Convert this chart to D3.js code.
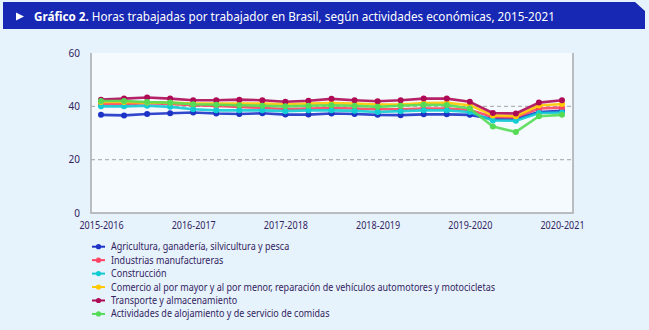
<!DOCTYPE html>
<html>
<head>
<meta charset="utf-8">
<script src="https://cdn.jsdelivr.net/npm/d3@7"></script>
<style>
  body { margin: 0; background: #e6f3fc; }
  svg { display: block; font-family: "Noto Sans", sans-serif; }
</style>
</head>
<body>
<div id="chart"></div>
<script>
// data (21 periods, labels every 4th one)
var periodos = d3.range(21);
var tickLabels = ['2015-2016', '2016-2017', '2017-2018', '2018-2019', '2019-2020', '2020-2021'];
var tickIndex = [0, 4, 8, 12, 16, 20];

var agricultura  = [36.8, 36.6, 37.1, 37.4, 37.7, 37.3, 37.1, 37.4, 36.9, 36.9, 37.3, 37.1, 36.8, 36.7, 37.0, 37.0, 36.8, 35.3, 35.3, 37.9, 38.3];
var industrias   = [40.8, 40.8, 41.2, 40.9, 40.4, 40.1, 39.8, 39.4, 39.0, 39.2, 39.4, 39.2, 38.9, 38.9, 39.2, 39.2, 38.6, 36.0, 35.9, 39.2, 39.5];
var construccion = [40.0, 40.0, 40.2, 39.8, 38.9, 38.5, 38.5, 38.5, 38.2, 38.5, 38.5, 38.3, 37.9, 38.2, 38.5, 38.5, 37.9, 34.7, 34.6, 37.5, 37.7];
var comercio     = [41.6, 41.6, 41.4, 41.4, 41.0, 41.0, 41.0, 41.0, 40.8, 41.0, 41.2, 41.0, 40.7, 40.7, 41.2, 41.3, 40.4, 36.6, 36.3, 40.3, 40.9];
var transporte   = [42.5, 42.9, 43.3, 42.9, 42.3, 42.3, 42.5, 42.3, 41.7, 42.1, 42.8, 42.3, 41.9, 42.3, 42.9, 42.9, 41.7, 37.5, 37.3, 41.4, 42.3];
var alojamiento  = [42.0, 42.0, 41.6, 41.4, 40.8, 40.6, 40.4, 40.2, 40.0, 40.2, 40.4, 40.2, 39.8, 40.2, 40.6, 40.5, 39.2, 32.4, 30.4, 36.3, 36.8];

var series = [
  {name: 'Agricultura, ganadería, silvicultura y pesca', values: agricultura, color: '#1c33c6'},
  {name: 'Industrias manufactureras', values: industrias, color: '#ff4262'},
  {name: 'Construcción', values: construccion, color: '#12cbd3'},
  {name: 'Comercio al por mayor y al por menor, reparación de vehículos automotores y motocicletas', values: comercio, color: '#ffc800'},
  {name: 'Transporte y almacenamiento', values: transporte, color: '#ae0a56'},
  {name: 'Actividades de alojamiento y de servicio de comidas', values: alojamiento, color: '#55db55'}
];

var width = 649, height = 330;
var plot = {left: 91, right: 573, top: 53, bottom: 213};
var textColor = '#33245f';

var svg = d3.select('#chart').append('svg')
    .attr('width', width)
    .attr('height', height);

svg.append('rect')
    .attr('width', width).attr('height', height)
    .attr('fill', '#e6f3fc');

// title bar with clipped top-right corner
svg.append('path')
    .attr('d', 'M3,2 H635 L645,11 V29 H3 Z')
    .attr('fill', '#1628b4');

svg.append('path')
    .attr('d', 'M16,12.5 L24,16.5 L16,20.5 Z')
    .attr('fill', '#ffffff');

var title = svg.append('text')
    .attr('transform', 'translate(34,20.5)')
    .attr('fill', '#ffffff')
    .style('font-size', '13px');
title.append('tspan').style('font-weight', 'bold').text('Gráfico 2.');
title.append('tspan').text(' Horas trabajadas por trabajador en Brasil, según actividades económicas, 2015-2021');
var tw = title.node().getComputedTextLength();
title.attr('transform', 'translate(34,20.5) scale(' + (521 / tw) + ',1)');

// plot area
svg.append('rect')
    .attr('x', plot.left).attr('y', plot.top)
    .attr('width', plot.right - plot.left)
    .attr('height', plot.bottom - plot.top)
    .attr('fill', '#f5faff');

var x = d3.scalePoint()
    .domain(periodos)
    .range([101, 562]);

var y = d3.scaleLinear()
    .domain([0, 60])
    .range([plot.bottom, plot.top]);

// dashed grid lines
svg.selectAll('line.grid')
    .data([20, 40])
    .enter()
    .append('line')
    .attr('class', 'grid')
    .attr('x1', plot.left).attr('x2', plot.right)
    .attr('y1', d => y(d)).attr('y2', d => y(d))
    .attr('stroke', '#b4b4b4')
    .attr('stroke-width', 1.2)
    .attr('stroke-dasharray', '4,3');

// frame: left, bottom, right
svg.append('path')
    .attr('d', 'M' + plot.left + ',' + plot.top + ' V' + plot.bottom + ' H' + plot.right + ' V' + plot.top)
    .attr('fill', 'none')
    .attr('stroke', '#ababab')
    .attr('stroke-width', 1.5);

// y axis labels
var yAxis = d3.axisLeft(y)
    .tickValues([0, 20, 40, 60])
    .tickSize(0)
    .tickPadding(0);

var gy = svg.append('g')
    .attr('transform', 'translate(80,0)')
    .call(yAxis);
gy.select('.domain').remove();
gy.selectAll('text')
    .style('font-family', '"Noto Sans", sans-serif')
    .style('font-size', '10px')
    .attr('fill', textColor);

// x axis labels
var xAxis = d3.axisBottom(x)
    .tickValues(tickIndex)
    .tickFormat((d, i) => tickLabels[i])
    .tickSize(0)
    .tickPadding(0);

var gx = svg.append('g')
    .attr('transform', 'translate(0,' + (plot.bottom + 9) + ')')
    .call(xAxis);
gx.select('.domain').remove();
gx.selectAll('text')
    .style('font-family', '"Noto Sans", sans-serif')
    .style('font-size', '10px')
    .attr('fill', textColor)
    .each(function() {
      var w = this.getComputedTextLength();
      d3.select(this).attr('textLength', w * 0.9).attr('lengthAdjust', 'spacingAndGlyphs');
    });

// lines and markers
var line = d3.line()
    .x((d, i) => x(periodos[i]))
    .y(d => y(d));

series.forEach(s => {
  var g = svg.append('g');
  g.append('path')
    .datum(s.values)
    .attr('d', line)
    .attr('fill', 'none')
    .attr('stroke', s.color)
    .attr('stroke-width', 2.6)
    .attr('stroke-opacity', 0.9)
    .attr('stroke-linejoin', 'round');
  g.selectAll('circle')
    .data(s.values)
    .enter()
    .append('circle')
    .attr('cx', (d, i) => x(periodos[i]))
    .attr('cy', d => y(d))
    .attr('r', 3)
    .attr('fill', s.color);
});

// legend
var legend = svg.append('g');
var rows = legend.selectAll('g')
    .data(series)
    .enter()
    .append('g')
    .attr('transform', (d, i) => 'translate(92,' + (246.7 + i * 13.45) + ')');

rows.append('line')
    .attr('x1', 0).attr('x2', 13)
    .attr('stroke', d => d.color)
    .attr('stroke-width', 2);
rows.append('circle')
    .attr('cx', 6.5).attr('r', 2.6)
    .attr('fill', d => d.color);

var labels = rows.append('text')
    .attr('x', 19)
    .attr('dy', '0.35em')
    .attr('fill', textColor)
    .style('font-size', '10px')
    .text(d => d.name);

var longest = d3.max(labels.nodes(), n => n.getComputedTextLength());
var squeeze = 384 / longest;
labels.each(function() {
  var w = this.getComputedTextLength();
  d3.select(this).attr('textLength', w * squeeze).attr('lengthAdjust', 'spacingAndGlyphs');
});
</script>
</body>
</html>
